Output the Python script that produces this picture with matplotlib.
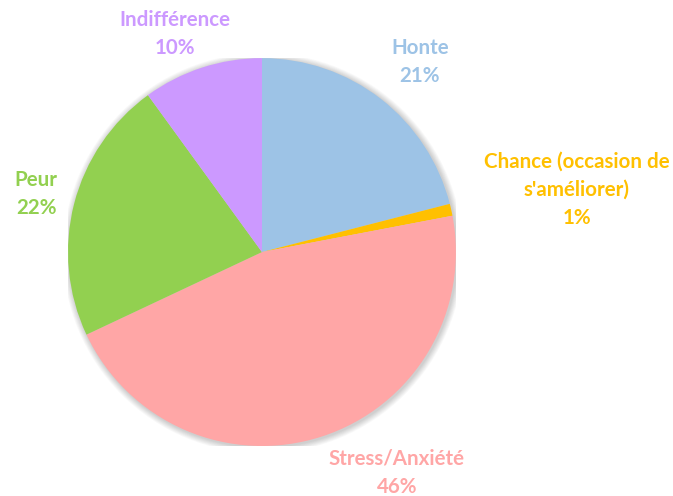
import matplotlib.pyplot as plt
from matplotlib.patches import Circle

plt.rcParams['font.family'] = ['Lato', 'DejaVu Sans']

# Data
categories = ["Honte", "Chance (occasion de\ns'améliorer)", "Stress/Anxiété", "Peur", "Indifférence"]
values = [21, 1, 46, 22, 10]
colors = ["#9DC3E6", "#FFC000", "#FFA6A6", "#92D050", "#CC99FF"]
label_pos = [(0.814, 0.979), (1.624, 0.320), (0.696, -1.139), (-1.165, 0.299), (-0.448, 1.124)]

fig = plt.figure(figsize=(6.73, 4.96), dpi=100)
ax = fig.add_axes([0.101, 0.1008, 0.5765, 0.782])

# soft shadow around the pie
for i in range(8):
    r = 1.0 + 0.004 * (i + 1)
    ax.add_patch(Circle((0.006, -0.006), r, color='black', alpha=0.025, lw=0, zorder=0))

wedges, _ = ax.pie(values, colors=colors, startangle=90, counterclock=False,
                   radius=1.0, wedgeprops=dict(linewidth=0))
for w in wedges:
    w.set_zorder(2)

for name, v, c, (x, y) in zip(categories, values, colors, label_pos):
    ax.text(x, y, f"{name}\n{v}%", color=c, ha='center', va='center',
            fontsize=14.8, fontweight='bold', linespacing=1.5, zorder=3)

ax.set_xlim(-1, 1)
ax.set_ylim(-1, 1)
ax.set_aspect('equal')
ax.axis('off')

fig.savefig('out.png', dpi=100)
